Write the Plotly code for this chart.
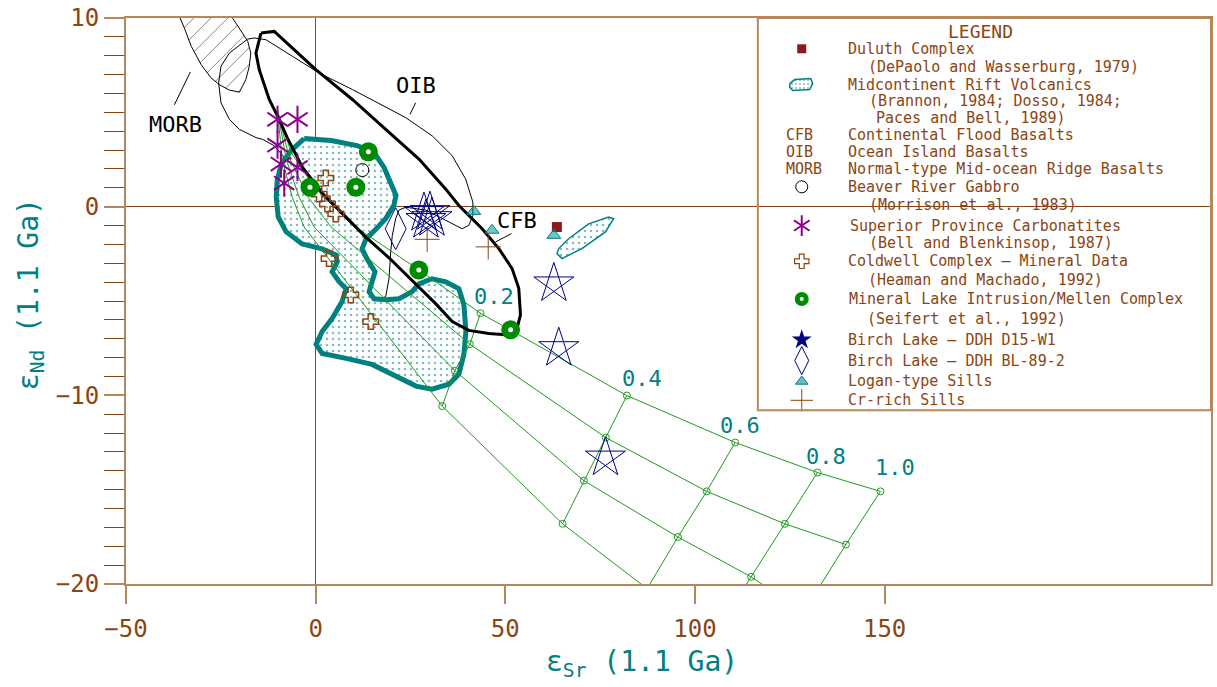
import plotly.graph_objects as go

# ---------------- data: epsilon Sr / epsilon Nd at 1.1 Ga ----------------
# MORB field (hatched)
morb_sr = [-37.0, -34.6, -32.8, -30.2, -27.6, -25.4, -22.8, -20.1, -18.4, -17.5, -17.1, -17.9, -19.3, -21.9, -21.0]
morb_nd = [10.6, 9.46, 8.50, 7.53, 6.83, 6.47, 6.18, 6.07, 6.74, 7.44, 8.14, 8.76, 9.20, 9.99, 10.6]

# OIB field (thin outline)
oib_sr = [-16.18, -13.11, -6.11, 0.92, 9.68, 23.74, 30.74, 36.0, 39.53, 41.45, 41.45, 40.39, 38.63, 36.0,
          33.37, 29.0, 23.74, 21.97, 21.1, 20.21, 19.79, 19.34, 18.47, 15.84, 14.08, 12.32, 10.58, 8.82,
          6.18, 3.55, 1.37, -4.34, -7.84, -10.92, -14.0, -15.74, -20.13, -22.76, -24.95, -25.58, -24.95,
          -22.76, -17.95, -16.18]
oib_nd = [8.94, 8.85, 7.97, 7.08, 6.21, 4.72, 3.75, 2.70, 1.47, 0.24, -0.46, -0.99, -1.17, -0.91,
          -0.64, -0.18, -0.03, -0.18, -0.64, -1.52, -2.40, -3.81, -4.77, -4.94, -4.86, -3.98, -3.28, -2.22,
          -0.99, -0.12, 1.03, 1.64, 2.52, 3.23, 3.57, 3.66, 4.10, 4.63, 5.51, 6.56, 7.44,
          8.14, 8.88, 8.94]

# CFB field (thick outline)
cfb_sr = [-14.42, -10.92, 0.05, 9.68, 18.47, 27.24, 34.26, 37.76, 43.89, 48.29, 51.79, 53.55, 54.0, 53.11,
          50.05, 45.66, 40.39, 36.0, 31.63, 26.37, 19.34, 13.21, 7.95, 1.79, -3.47, -7.5, -9.61, -12.24,
          -14.87, -15.74, -14.42]
cfb_nd = [9.20, 9.29, 7.26, 5.68, 4.10, 2.52, 0.94, 0.06, -1.17, -2.22, -3.28, -4.33, -5.74, -6.44,
          -6.79, -6.72, -6.56, -6.09, -5.14, -4.09, -2.71, -1.61, -0.55, 0.71, 2.08, 3.66, 4.63, 5.68,
          7.26, 8.14, 9.20]

# Midcontinent Rift Volcanics field
mrv_sr = [-3.03, 4.08, 10.92, 15.39, 18.03, 19.87, 21.18, 20.66, 18.55, 15.92, 13.29, 12.24, 13.55, 15.66,
          14.87, 14.08, 15.39, 18.55, 21.97, 25.39, 27.24, 30.66, 34.34, 37.76, 39.08, 39.61, 39.08, 37.76,
          35.13, 30.66, 26.45, 20.13, 14.87, 8.03, 1.71, 0.13, 1.71, 4.34, 6.97, 8.03, 6.18, 4.34, 5.66,
          5.39, 1.71, -3.55, -7.76, -9.87, -10.39, -10.13, -9.08, -6.45, -3.03]
mrv_nd = [3.61, 3.51, 3.24, 2.87, 2.08, 1.29, 0.61, 0.08, -0.61, -1.19, -1.71, -2.24, -2.77, -3.45,
          -3.98, -4.51, -4.88, -4.93, -4.88, -4.51, -4.09, -3.82, -3.98, -4.35, -5.19, -6.62, -7.83, -8.88,
          -9.41, -9.67, -9.51, -8.88, -8.36, -8.04, -7.78, -7.30, -6.62, -5.93, -5.03, -4.35, -3.98, -3.45, -2.93,
          -2.56, -2.24, -1.98, -1.34, -0.55, 0.50, 1.40, 2.24, 2.98, 3.61]

# second small Midcontinent Rift field
mrv2_sr = [63.6, 64.95, 70.2, 76.4, 78.55, 77.24, 71.97, 66.71, 64.08, 63.6]
mrv2_nd = [-2.49, -2.75, -2.22, -1.34, -0.64, -0.55, -0.91, -1.70, -2.22, -2.49]

# mixing model: common starting composition, four curves, marked at fractions 0.2 ... 1.0
mix_frac = ["0.2", "0.4", "0.6", "0.8", "1.0"]
mix_start_sr, mix_start_nd = -10.05, 5.07
lead_A_sr, lead_A_nd = [-6.45, -0.39, 9.34, 27.2], [2.87, 1.03, -0.92, -3.35]
lead_B_sr, lead_B_nd = [-6.97, -1.97, 4.08], [2.61, 0.50, -1.08]
lead_C_sr, lead_C_nd = [-7.76, -4.34, -0.39], [2.50, 0.50, -1.08]
lead_D_sr, lead_D_nd = [-8.82, -6.18, -3.03], [2.50, 0.50, -1.08]
curve_A_sr = [43.47, 82.05, 110.6, 132.3, 148.9]
curve_A_nd = [-5.65, -10.01, -12.50, -14.09, -15.09]
curve_B_sr = [40.66, 76.5, 103.1, 123.7, 139.8]
curve_B_nd = [-7.29, -12.24, -15.09, -16.81, -17.91]
curve_C_sr = [36.7, 70.7, 95.5, 114.8, 128.6]
curve_C_nd = [-8.69, -14.52, -17.51, -19.62, -21.5]
curve_D_sr = [33.37, 65.1, 87.4, 105.7, 120.8]
curve_D_nd = [-10.57, -16.81, -20.25, -22.5, -24.0]

# sample groups
duluth_sr, duluth_nd = [63.6], [-1.08]
beaver_sr, beaver_nd = [12.3], [1.94]
carb_sr = [-10.05, -4.79, -10.05, -9.16, -4.79, -8.29]
carb_nd = [4.63, 4.63, 3.26, 2.26, 2.08, 1.25]
coldwell_sr = [2.68, 0.92, 3.11, 5.32, 3.55, 9.26, 14.53]
coldwell_nd = [1.52, 0.67, 0.15, -0.38, -2.75, -4.68, -6.09]
mineral_sr = [13.9, 10.6, -1.5, 27.2, 51.4]
mineral_nd = [2.91, 1.03, 1.03, -3.36, -6.53]
birch_d15_sr = [28.55, 30.13, 30.66, 29.08, 62.8, 64.1, 76.4]
birch_d15_nd = [-0.34, -0.29, -0.61, -0.71, -4.07, -7.50, -13.3]
birch_bl_sr, birch_bl_nd = [21.1], [-1.17]
logan_sr, logan_nd = [41.7, 46.5, 62.8], [-0.25, -1.25, -1.52]
crrich_sr, crrich_nd = [29.4, 45.5], [-1.73, -2.13]

# field labels and their leader lines
field_labels = ["OIB", "MORB", "CFB"]
field_label_sr = [26.4, -37.0, 53.0]
field_label_nd = [6.40, 4.35, -0.71]
leader_sr = [[26.37, 24.87], [-37.24, -33.03], [51.63, 47.42]]
leader_nd = [[5.51, 4.89], [5.40, 7.14], [-1.43, -1.87]]

x_ticks = [-50, 0, 50, 100, 150]
y_ticks = [-20, -10, 0, 10]

# ---------------- styling ----------------
FONT = "DejaVu Sans Mono"
BROWN = "#8B4513"
TAN = "#B4885A"
TEAL = "#008080"
GREEN = "#1E9A1E"
NAVY = "#000080"
PURPLE = "#8B008B"

W, H = 1217, 687
ML, MR, MT, MB = 126, 4, 14, 103
PX_PER_SR = 3.8
PX_PER_ND = 19.0
x_min = -50
x_max = x_min + (W - ML - MR) / PX_PER_SR
y_min, y_max = -20, 10

fig = go.Figure()

# MORB hatched field
fig.add_trace(go.Scatter(x=morb_sr, y=morb_nd, mode="lines", fill="toself",
                         fillcolor="white", line=dict(color="black", width=1),
                         fillpattern=dict(shape="/", fgcolor="black", bgcolor="white", size=12, solidity=0.08),
                         hoverinfo="skip", showlegend=False))
# OIB thin outline
fig.add_trace(go.Scatter(x=oib_sr, y=oib_nd, mode="lines", line=dict(color="black", width=1),
                         hoverinfo="skip", showlegend=False))
# Midcontinent rift fields
fig.add_trace(go.Scatter(x=mrv_sr, y=mrv_nd, mode="lines", fill="toself", fillcolor="white",
                         fillpattern=dict(shape=".", fgcolor=TEAL, bgcolor="white", size=6, solidity=0.15),
                         line=dict(color=TEAL, width=5), hoverinfo="skip", showlegend=False))
fig.add_trace(go.Scatter(x=mrv2_sr, y=mrv2_nd, mode="lines", fill="toself", fillcolor="white",
                         fillpattern=dict(shape=".", fgcolor=TEAL, bgcolor="white", size=6, solidity=0.15),
                         line=dict(color=TEAL, width=1.5), hoverinfo="skip", showlegend=False))

# mixing curves
curves = [(lead_A_sr, lead_A_nd, curve_A_sr, curve_A_nd),
          (lead_B_sr, lead_B_nd, curve_B_sr, curve_B_nd),
          (lead_C_sr, lead_C_nd, curve_C_sr, curve_C_nd),
          (lead_D_sr, lead_D_nd, curve_D_sr, curve_D_nd)]
for lsr, lnd, csr, cnd in curves:
    fig.add_trace(go.Scatter(x=[mix_start_sr] + lsr + csr, y=[mix_start_nd] + lnd + cnd, mode="lines",
                             line=dict(color=GREEN, width=1), hoverinfo="skip", showlegend=False))
    fig.add_trace(go.Scatter(x=csr, y=cnd, mode="markers",
                             marker=dict(symbol="circle-open", size=7, color=GREEN, line=dict(width=1)),
                             hoverinfo="skip", showlegend=False))
# lines of equal mixing fraction
for i in range(len(mix_frac)):
    fig.add_trace(go.Scatter(x=[c[2][i] for c in curves], y=[c[3][i] for c in curves], mode="lines",
                             line=dict(color=GREEN, width=1), hoverinfo="skip", showlegend=False))

# CFB thick outline
fig.add_trace(go.Scatter(x=cfb_sr, y=cfb_nd, mode="lines", line=dict(color="black", width=3),
                         hoverinfo="skip", showlegend=False))

# leader lines
for lx, ly in zip(leader_sr, leader_nd):
    fig.add_trace(go.Scatter(x=lx, y=ly, mode="lines", line=dict(color="black", width=1),
                             hoverinfo="skip", showlegend=False))

# ---- sample symbols ----
def pts(x, y, **marker):
    fig.add_trace(go.Scatter(x=x, y=y, mode="markers", marker=marker, hoverinfo="skip", showlegend=False))

pts(duluth_sr, duluth_nd, symbol="square", size=10, color="#8B1A1A", line=dict(width=0))
pts(logan_sr, logan_nd, symbol="triangle-up", size=12, color="rgba(0,150,150,0.55)", line=dict(color=TEAL, width=1))
pts(crrich_sr, crrich_nd, symbol="cross-thin-open", size=18, color=BROWN, line=dict(width=1, color=BROWN))
pts(birch_bl_sr, birch_bl_nd, symbol="diamond-tall-open", size=30, color=NAVY, line=dict(width=1, color=NAVY))
pts(birch_d15_sr, birch_d15_nd, symbol="star-open", size=30, color=NAVY, line=dict(width=1, color=NAVY))
pts(birch_d15_sr, birch_d15_nd, symbol="pentagon-open", size=16, angle=180, color=NAVY, line=dict(width=1, color=NAVY))
pts(coldwell_sr, coldwell_nd, symbol="cross-open", size=13, color=BROWN, line=dict(width=1.5, color=BROWN))
pts(beaver_sr, beaver_nd, symbol="circle-open", size=13, color="black", line=dict(width=1, color="black"))
pts(mineral_sr, mineral_nd, symbol="circle", size=19, color="#008C00", line=dict(width=0))
pts(mineral_sr, mineral_nd, symbol="circle", size=5, color="white", line=dict(width=0))
pts(carb_sr, carb_nd, symbol="y-up-open", size=17, color=PURPLE, line=dict(width=2, color=PURPLE))
pts(carb_sr, carb_nd, symbol="y-down-open", size=17, color=PURPLE, line=dict(width=2, color=PURPLE))

annotations = []
# mixing fraction labels along the upper curve
frac_shift = [(13, 17), (15, 17), (5, 17), (9, 16), (15, 24)]
for lab, sx, sy, (dx, dy) in zip(mix_frac, curve_A_sr, curve_A_nd, frac_shift):
    annotations.append(dict(x=sx, y=sy, xref="x", yref="y", text=lab, showarrow=False,
                            xshift=dx, yshift=dy, font=dict(family=FONT, size=22, color=TEAL)))
# field labels
for lab, sx, sy in zip(field_labels, field_label_sr, field_label_nd):
    annotations.append(dict(x=sx, y=sy, xref="x", yref="y", text=lab, showarrow=False,
                            font=dict(family=FONT, size=22, color="black")))

# ---------------- legend panel (laid out on a pixel overlay axis) ----------------
LEG_SYM_X = 803
LEG_TXT_X = 847
LEG_FONT = 15
legend_rows = [
    # (text, x, y)
    ("Duluth Complex", LEG_TXT_X, 45),
    ("(DePaolo and Wasserburg, 1979)", 867, 63),
    ("Midcontinent Rift Volcanics", LEG_TXT_X, 81),
    ("(Brannon, 1984; Dosso, 1984;", 868, 97.5),
    ("Paces and Bell, 1989)", 875, 115),
    ("Continental Flood Basalts", LEG_TXT_X, 132),
    ("Ocean Island Basalts", LEG_TXT_X, 149),
    ("Normal-type Mid-ocean Ridge Basalts", LEG_TXT_X, 166.5),
    ("Beaver River Gabbro", LEG_TXT_X, 184),
    ("(Morrison et al., 1983)", 868, 202),
    ("Superior Province Carbonatites", 849, 223),
    ("(Bell and Blenkinsop, 1987)", 868, 240.5),
    ("Coldwell Complex – Mineral Data", LEG_TXT_X, 259),
    ("(Heaman and Machado, 1992)", 867, 278),
    ("Mineral Lake Intrusion/Mellen Complex", 848, 297),
    ("(Seifert et al., 1992)", 866, 317),
    ("Birch Lake – DDH D15-W1", LEG_TXT_X, 338),
    ("Birch Lake – DDH BL-89-2", LEG_TXT_X, 359),
    ("Logan-type Sills", LEG_TXT_X, 380),
    ("Cr-rich Sills", LEG_TXT_X, 399),
]
for txt, lx, ly in legend_rows:
    annotations.append(dict(x=lx, y=ly, xref="x2", yref="y2", text=txt, showarrow=False,
                            xanchor="left", yanchor="middle",
                            font=dict(family=FONT, size=LEG_FONT, color=BROWN)))
for txt, ly in [("CFB", 132), ("OIB", 149), ("MORB", 166.5)]:
    annotations.append(dict(x=785, y=ly, xref="x2", yref="y2", text=txt, showarrow=False,
                            xanchor="left", yanchor="middle",
                            font=dict(family=FONT, size=LEG_FONT, color=BROWN)))
annotations.append(dict(x=982, y=28, xref="x2", yref="y2", text="LEGEND", showarrow=False,
                        xanchor="center", yanchor="middle", font=dict(family=FONT, size=18, color=BROWN)))


def leg(y, **marker):
    fig.add_trace(go.Scatter(x=[LEG_SYM_X], y=[y], xaxis="x2", yaxis="y2", mode="markers",
                             marker=marker, hoverinfo="skip", showlegend=False))


leg(45, symbol="square", size=9, color="#8B1A1A")
fig.add_trace(go.Scatter(x=[791, 796, 812, 814, 811, 794, 791, 791],
                         y=[80, 76, 75, 80, 86, 87, 84, 80], xaxis="x2", yaxis="y2",
                         mode="lines", fill="toself", fillcolor="white",
                         fillpattern=dict(shape=".", fgcolor=TEAL, bgcolor="white", size=4, solidity=0.2),
                         line=dict(color=TEAL, width=1.5), hoverinfo="skip", showlegend=False))
leg(184, symbol="circle-open", size=12, color="black", line=dict(width=1))
leg(223, symbol="y-up-open", size=13, color=PURPLE, line=dict(width=2, color=PURPLE))
leg(223, symbol="y-down-open", size=13, color=PURPLE, line=dict(width=2, color=PURPLE))
leg(259, symbol="cross-open", size=12, color=BROWN, line=dict(width=1.2, color=BROWN))
leg(297, symbol="circle", size=14, color="#008C00")
leg(297, symbol="circle", size=4, color="white")
leg(338, symbol="star", size=15, color=NAVY)
leg(359, symbol="diamond-tall-open", size=20, color=NAVY, line=dict(width=1, color=NAVY))
leg(380, symbol="triangle-up", size=11, color="rgba(0,150,150,0.6)", line=dict(color=TEAL, width=1))
leg(399, symbol="cross-thin-open", size=16, color=BROWN, line=dict(width=1, color=BROWN))

shapes = [dict(type="rect", xref="x2", yref="y2", x0=759, x1=1213, y0=14, y1=409,
               line=dict(color=TAN, width=2), fillcolor="rgba(0,0,0,0)", layer="above")]


def to_paper_x(px):
    return (px - ML) / (W - ML - MR)


def to_paper_y(py):
    return (H - MB - py) / (H - MT - MB)


annotations.append(dict(x=to_paper_x(643), y=to_paper_y(664), xref="paper", yref="paper",
                        xanchor="center", yanchor="middle",
                        text="ε<sub>Sr</sub> (1.1 Ga)", showarrow=False,
                        font=dict(family=FONT, size=28, color=TEAL)))
annotations.append(dict(x=to_paper_x(30), y=to_paper_y(292), xref="paper", yref="paper",
                        xanchor="center", yanchor="middle",
                        text="ε<sub>Nd</sub> (1.1 Ga)", showarrow=False, textangle=-90,
                        font=dict(family=FONT, size=28, color=TEAL)))

fig.update_layout(
    width=W, height=H,
    margin=dict(l=ML, r=MR, t=MT, b=MB, pad=0),
    paper_bgcolor="white", plot_bgcolor="white",
    showlegend=False,
    annotations=annotations,
    shapes=shapes,
    xaxis=dict(range=[x_min, x_max], tickvals=x_ticks, ticks="outside", ticklen=18, tickwidth=1.5,
               tickcolor=TAN, showline=True, linecolor=TAN, linewidth=2, mirror=True,
               showgrid=False, zeroline=True, zerolinecolor=BROWN, zerolinewidth=1,
               tickfont=dict(family=FONT, size=24, color=BROWN), ticklabelstandoff=4),
    yaxis=dict(range=[y_min, y_max], tickvals=y_ticks, ticks="outside", ticklen=20, tickwidth=1.5,
               tickcolor=TAN, showline=True, linecolor=TAN, linewidth=2, mirror=True,
               showgrid=False, zeroline=True, zerolinecolor=BROWN, zerolinewidth=1,
               minor=dict(dtick=1, ticks="outside", ticklen=20, tickcolor=BROWN, tickwidth=1),
               tickfont=dict(family=FONT, size=24, color=BROWN)),
    xaxis2=dict(range=[ML, W - MR], overlaying="x", visible=False, fixedrange=True),
    yaxis2=dict(range=[H - MB, MT], overlaying="y", visible=False, fixedrange=True),
)

fig.write_html("out.html")
